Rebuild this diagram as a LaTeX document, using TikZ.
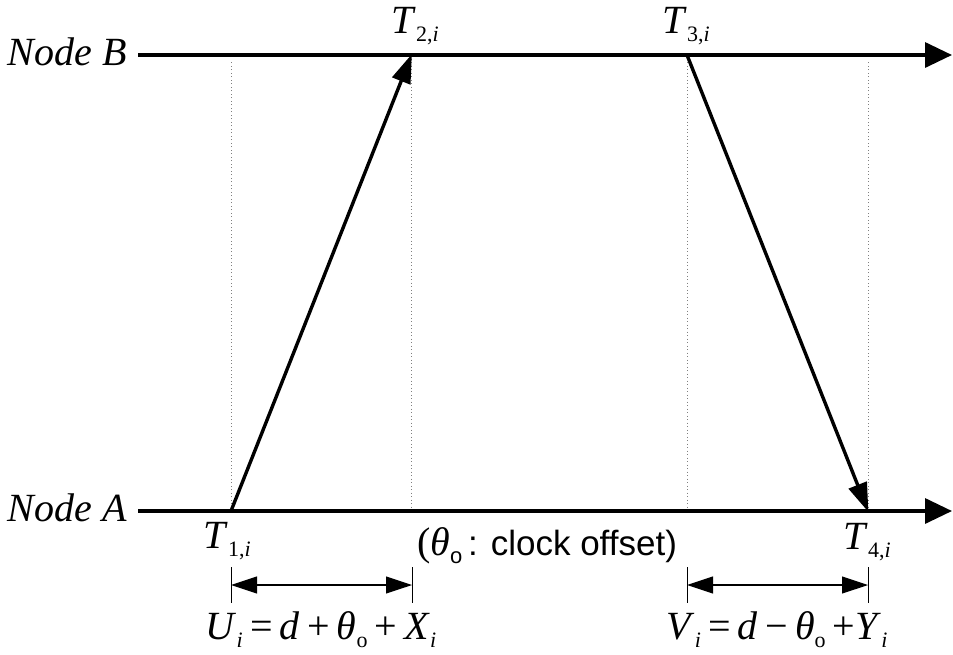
\documentclass[tikz,border=0pt]{standalone}
\usepackage{fontspec}
\setmainfont{Liberation Serif}
\newfontfamily\sansf{Liberation Sans}
\usetikzlibrary{arrows.meta}
\newcommand{\sbs}[1]{\raisebox{-0.22em}{\fontsize{22}{22}\selectfont #1}}
\newcommand{\sps}{\hspace{0.18em}}
\begin{document}
\begin{tikzpicture}[x=1pt,y=-1pt,
  lbl/.style={inner sep=0pt, font=\fontsize{40}{44}\selectfont, anchor=base},
  axis/.style={line width=3.4pt, -{Triangle[length=27pt,width=25pt]}},
  msg/.style={line width=3.4pt, -{Triangle[length=29pt,width=19pt]}, shorten >=-1pt},
  guide/.style={gray, line width=0.7pt, dash pattern=on 1pt off 2.5pt},
  tick/.style={line width=1pt},
  dimarrow/.style={line width=1.1pt, {Triangle[length=26pt,width=17pt]}-{Triangle[length=26pt,width=17pt]}}]
\useasboundingbox (0,0) rectangle (953,654);
% coordinates
\coordinate (b0) at (138,55);
\coordinate (b1) at (952,55);
\coordinate (a0) at (138,511);
\coordinate (a1) at (952,511);
\coordinate (t1) at (231,511);
\coordinate (t2) at (411.5,55);
\coordinate (t3) at (687,55);
\coordinate (t4) at (868,511);
% guides
\draw[guide] (t1) -- ++(0,-451);
\draw[guide] (t2) -- ++(0,456);
\draw[guide] (t3) -- ++(0,456);
\draw[guide] (t4) -- ++(0,-451);
% axes
\draw[axis] (b0) -- (b1);
\draw[axis] (a0) -- (a1);
% messages
\draw[msg] (t1) -- (t2);
\draw[msg] (t3) -- (t4);
% labels
\node[lbl, anchor=base east] (nb) at (127,65) {\textit{Node B}};
\node[lbl, anchor=base east] (na) at (127,521) {\textit{Node A}};
\node[lbl] (T1) at (227,548) {\textit{T}\sbs{1,\textit{i}}};
\node[lbl] (T2) at (415,33) {\textit{T}\sbs{2,\textit{i}}};
\node[lbl] (T3) at (686,33) {\textit{T}\sbs{3,\textit{i}}};
\node[lbl] (T4) at (867,549) {\textit{T}\sbs{4,\textit{i}}};
\node[lbl] (off) at (547,555) {(\textit{θ}\sbs{\sansf o}{\fontsize{35}{40}\sansf\,: clock offset)}};
% dimension markers
\coordinate (u0) at (231,585);
\coordinate (u1) at (412,585);
\coordinate (v0) at (687,585);
\coordinate (v1) at (868,585);
\draw[tick] (u0) ++(0,-18) -- ++(0,36);
\draw[tick] (u1) ++(0,-18) -- ++(0,36);
\draw[tick] (v0) ++(0,-18) -- ++(0,36);
\draw[tick] (v1) ++(0,-18) -- ++(0,36);
\draw[dimarrow] (u0) -- (u1);
\draw[dimarrow] (v0) -- (v1);
\node[lbl] (U) at (321,639) {\textit{U}\sbs{\textit{i}}\sps=\sps\textit{d}\sps+\sps\textit{θ}\sbs{o}\sps+\sps\textit{X}\sbs{\textit{i}}};
\node[lbl] (V) at (777,639) {\textit{V}\sbs{\textit{i}}\sps=\sps\textit{d}\sps−\sps\textit{θ}\sbs{o}\sps+\textit{Y}\sbs{\textit{i}}};
\end{tikzpicture}
\end{document}
